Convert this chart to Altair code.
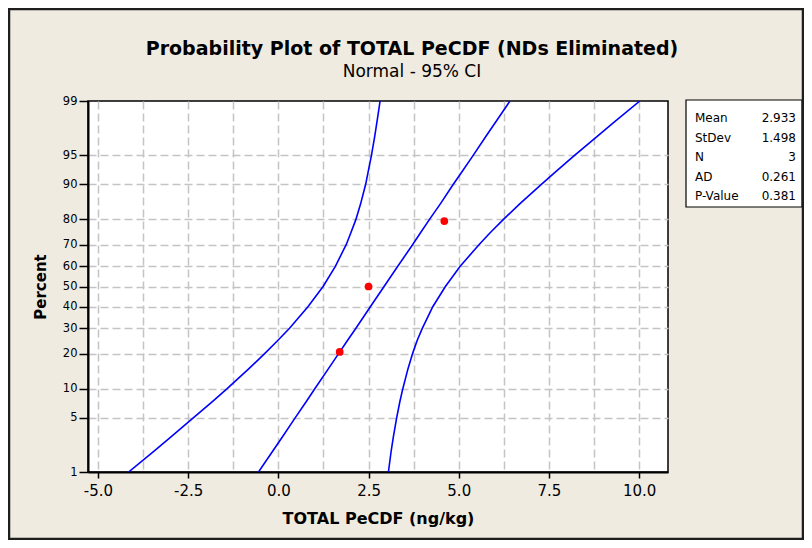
import altair as alt
import pandas as pd
from statistics import NormalDist

# ---------------- data ----------------
percents = [1, 2, 3, 5, 7.5, 10, 15, 20, 25, 30, 40, 50, 60, 70, 75, 80, 85, 90, 92.5, 95, 97, 98, 99]
lower_ci = [-4.15, -3.42, -2.96, -2.35, -1.82, -1.42, -0.83, -0.38, -0.01, 0.31, 0.82, 1.24,
            1.58, 1.88, 2.01, 2.15, 2.28, 2.42, 2.49, 2.58, 2.67, 2.73, 2.82]
fit_line = [-0.55, -0.14, 0.12, 0.47, 0.78, 1.01, 1.38, 1.67, 1.92, 2.15, 2.55, 2.93,
            3.31, 3.72, 3.94, 4.19, 4.49, 4.85, 5.09, 5.40, 5.75, 6.01, 6.42]
upper_ci = [3.05, 3.13, 3.19, 3.28, 3.37, 3.45, 3.59, 3.72, 3.85, 3.99, 4.28, 4.63,
            5.04, 5.56, 5.87, 6.24, 6.69, 7.29, 7.69, 8.21, 8.83, 9.29, 10.02]

point_x = [1.7, 2.5, 4.6]
point_pct = [20.6, 50.0, 79.4]

y_tick_pct = [1, 5, 10, 20, 30, 40, 50, 60, 70, 80, 90, 95, 99]
x_tick_vals = [-5.0, -3.75, -2.5, -1.25, 0.0, 1.25, 2.5, 3.75, 5.0, 6.25, 7.5, 8.75, 10.0]

stat_names = ["Mean", "StDev", "N", "AD", "P-Value"]
stat_values = ["2.933", "1.498", "3", "0.261", "0.381"]

title_text = "Probability Plot of TOTAL PeCDF (NDs Eliminated)"
subtitle_text = "Normal - 95% CI"
x_title = "TOTAL PeCDF (ng/kg)"
y_title = "Percent"

# ---------------- build tables ----------------
rows = []
for name, xs in (("lower", lower_ci), ("fit", fit_line), ("upper", upper_ci)):
    for p, v in zip(percents, xs):
        rows.append({"series": name, "pct": p, "x": v})
curve_df = pd.DataFrame(rows)
point_df = pd.DataFrame({"x": point_x, "pct": point_pct})
stats_df = pd.DataFrame({"name": stat_names, "value": stat_values, "row": list(range(len(stat_names)))})

nd = NormalDist()
y_tick_z = [nd.inv_cdf(p / 100.0) for p in y_tick_pct]
zmax = nd.inv_cdf(0.99)

F = "DejaVu Sans"
W, H = 580, 371
PL, PT, PR, PB = 80, 93, 136, 68

grid_kw = dict(grid=True, gridDash=[8, 4], gridWidth=1.5)
is_major = "abs(datum.value/2.5 - round(datum.value/2.5)) < 0.001"

x_enc = alt.X(
    "x:Q",
    scale=alt.Scale(domain=[-5.276, 10.80], nice=False, zero=False),
    axis=alt.Axis(
        values=x_tick_vals, tickCount=40,
        labelExpr=is_major + " ? replace(format(datum.value, '.1f'), '\u2212', '-') : ''",
        tickColor={"condition": {"test": is_major, "value": "black"}, "value": "transparent"},
        gridColor="#c4c4c4",
        tickSize=6, tickWidth=1.5,
        domainColor="black", domainWidth=2,
        labelFont=F, labelFontSize=15, labelColor="black", labelPadding=5, labelFlush=False,
        labelOverlap=False,
        title=x_title, titleFont=F, titleFontSize=16, titleFontWeight="bold", titleColor="black",
        titleY=46, titleBaseline="middle",
        **grid_kw,
    ),
)

y_scale = alt.Scale(domain=[-zmax, zmax], nice=False, zero=False)
y_enc = alt.Y(
    "z:Q",
    scale=y_scale,
    axis=alt.Axis(
        values=y_tick_z, tickCount=40,
        labelExpr="format(cumulativeNormal(datum.value)*100, '.0f')",
        gridColor={"condition": {"test": "abs(datum.value) > 2.3", "value": "transparent"}, "value": "#c4c4c4"},
        tickColor="black", tickSize=9, tickWidth=1.5,
        domainColor="black", domainWidth=2,
        labelFont=F, labelFontSize=11.5, labelColor="black", labelPadding=2,
        labelOverlap=False, labelFlush=False,
        title=y_title, titleFont=F, titleFontSize=15, titleFontWeight="bold", titleColor="black",
        titleX=-48, titleY=H / 2, titleBaseline="middle", titleAngle=270,
        **grid_kw,
    ),
)

lines = alt.Chart(curve_df).transform_calculate(
    z="quantileNormal(datum.pct/100)"
).mark_line(color="#0000ff", strokeWidth=1.6, clip=True).encode(
    x=x_enc, y=y_enc, detail="series:N", order="pct:Q"
)

points = alt.Chart(point_df).transform_calculate(
    z="quantileNormal(datum.pct/100)"
).mark_circle(color="#ff0000", size=60, opacity=1).encode(
    x=alt.X("x:Q"), y=alt.Y("z:Q")
)

one = pd.DataFrame({"k": [0]})
box = alt.Chart(one).mark_rect(fill="white", stroke="black", strokeWidth=1.2).encode(
    x=alt.value(598), x2=alt.value(714), y=alt.value(-1), y2=alt.value(106)
)
frame = alt.Chart(one).mark_rect(fillOpacity=0, stroke="#1e1e1e", strokeWidth=2.5).encode(
    x=alt.value(-PL + 1), x2=alt.value(W + PR - 1), y=alt.value(-PT + 1), y2=alt.value(H + PB - 1)
)

stat_y = alt.Y("row:O", scale=alt.Scale(type="point", range=[17, 95], padding=0), axis=None)
names = alt.Chart(stats_df).mark_text(
    align="left", baseline="middle", font=F, fontSize=12, color="black"
).encode(x=alt.value(607), y=stat_y, text="name:N")
vals = alt.Chart(stats_df).mark_text(
    align="right", baseline="middle", font=F, fontSize=12, color="black"
).encode(x=alt.value(708), y=stat_y, text="value:N")

chart = alt.layer(
    alt.layer(lines, points),
    box, names, vals, frame,
).resolve_scale(y="independent").properties(
    width=W, height=H,
    padding={"left": PL, "top": PT, "right": PR, "bottom": PB},
    autosize=alt.AutoSizeParams(type="none"),
    background="#efebe1",
    title=alt.TitleParams(
        text=title_text, subtitle=subtitle_text,
        font=F, fontSize=19, fontWeight="bold", color="black",
        subtitleFont=F, subtitleFontSize=17, subtitleColor="black", subtitlePadding=5,
        anchor="middle", dx=34, dy=90, offset=18, frame="group",
    ),
).configure_view(stroke="black", strokeWidth=1.5, fill="white")

chart.save("out.html", embed_options={"renderer": "svg", "actions": False})
